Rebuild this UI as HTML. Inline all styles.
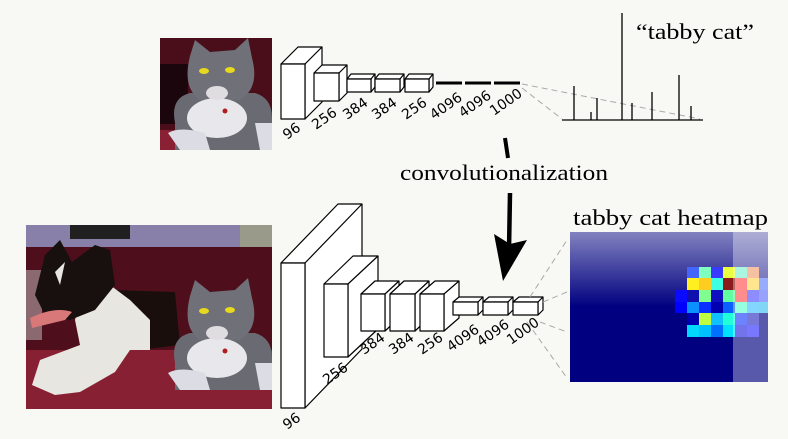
<!DOCTYPE html>
<html><head><meta charset="utf-8"><style>
html,body{margin:0;padding:0;background:#f8f8f4;}
svg{display:block;}
.lb{font-family:"DejaVu Sans","Liberation Sans",sans-serif;font-size:14px;fill:#000;}
.sf{font-family:"Liberation Serif",serif;font-size:22px;fill:#000;}
</style></head><body>
<svg width="788" height="439" viewBox="0 0 788 439" xmlns="http://www.w3.org/2000/svg">
<defs>
<clipPath id="c1"><rect x="160" y="38" width="112" height="112"/></clipPath>
<clipPath id="c2"><rect x="26" y="225" width="246" height="184"/></clipPath>
<g id="cat">
  <path d="M15,85 Q10,60 30,55 L95,55 Q112,60 112,80 L112,112 L15,112Z" fill="#6a6a72"/>
  <path d="M30,18 L35,2 L50,14 L75,12 L88,0 L92,20 Q100,50 80,62 L40,62 Q22,50 30,18Z" fill="#707078"/>
  <ellipse cx="57" cy="80" rx="30" ry="20" fill="#e8e8ec"/>
  <ellipse cx="57" cy="55" rx="11" ry="7" fill="#e0dde0"/>
  <ellipse cx="44" cy="33" rx="5" ry="3" fill="#e8d820"/>
  <ellipse cx="70" cy="32" rx="5" ry="3" fill="#e8d820"/>
  <circle cx="65" cy="73" r="2.5" fill="#b02020"/>
  <path d="M8,95 Q20,88 45,95 L50,112 L20,112Z" fill="#dcdce4"/>
  <path d="M95,85 L112,85 L112,112 L100,112Z" fill="#dcdce4"/>
</g>
</defs>

<g clip-path="url(#c1)">
  <rect x="160" y="38" width="112" height="112" fill="#4a0e1a"/>
  <rect x="160" y="64" width="28" height="60" fill="#1a060c"/>
  <rect x="160" y="130" width="112" height="20" fill="#8a2033"/>
  <use href="#cat" x="160" y="38"/>
</g>

<g clip-path="url(#c2)">
  <rect x="26" y="225" width="246" height="184" fill="#4e0e1c"/>
  <rect x="26" y="225" width="246" height="22" fill="#8880a8"/>
  <rect x="70" y="225" width="60" height="14" fill="#202020"/>
  <rect x="240" y="225" width="32" height="22" fill="#9a9a8a"/>
  <rect x="26" y="350" width="246" height="59" fill="#882034"/>
  <rect x="26" y="270" width="16" height="70" fill="#8a6a70"/>
  <path d="M110,290 L175,292 L180,345 L140,350 L120,320Z" fill="#1a0e0c"/>
  <path d="M80,300 L110,285 L130,300 L150,320 L150,350 L130,350 L115,372 L80,392 L55,395 L32,385 L40,360 L80,345 L75,320Z" fill="#e8e6e0"/>
  <path d="M45,255 L60,240 L72,262 L95,245 L110,250 L115,285 L95,310 L70,320 L45,315 L35,295Z" fill="#18100e"/>
  <path d="M55,272 L65,262 L60,285Z" fill="#e8e6e0"/>
  <path d="M30,318 Q55,306 72,312 L65,320 L32,328Z" fill="#d87878"/>
  <use href="#cat" x="160" y="278"/>
</g>

<g fill="#fff" stroke="#000" stroke-width="1.2" stroke-linejoin="round">
  <path d="M281,64 L298,47 L322,47 L322,102 L305,119 L305,64Z"/><path d="M305,64 L322,47"/>
  <rect x="281" y="64" width="24" height="55"/>
  <path d="M314,73 L322,65 L347,65 L347,93 L339,101 L339,73Z"/><path d="M339,73 L347,65"/>
  <rect x="314" y="73" width="25" height="28"/>
  <path d="M347,79 L351,74 L375,74 L375,87 L371,92 L371,79Z"/><path d="M371,79 L375,74"/>
  <rect x="347" y="79" width="24" height="13"/>
  <path d="M375,79 L379,74 L404,74 L404,87 L400,92 L400,79Z"/><path d="M400,79 L404,74"/>
  <rect x="375" y="79" width="25" height="13"/>
  <path d="M405,79 L409,74 L433,74 L433,87 L429,92 L429,79Z"/><path d="M429,79 L433,74"/>
  <rect x="405" y="79" width="24" height="13"/>
</g>
<g stroke="#000" stroke-width="3">
  <line x1="436" y1="83" x2="462" y2="83"/><line x1="465" y1="83" x2="491" y2="83"/><line x1="494" y1="83" x2="520" y2="83"/>
</g>
<g stroke="#aaa" stroke-width="1" stroke-dasharray="6,4">
  <line x1="522" y1="84" x2="700" y2="119"/><line x1="522" y1="88" x2="562" y2="119"/>
</g>
<g stroke="#000" stroke-width="1.3">
  <line x1="562" y1="120" x2="703" y2="120"/>
  <line x1="574" y1="120" x2="574" y2="86"/><line x1="591" y1="120" x2="591" y2="112"/>
  <line x1="597" y1="120" x2="597" y2="98"/><line x1="622" y1="120" x2="622" y2="13"/>
  <line x1="632" y1="120" x2="632" y2="103"/><line x1="652" y1="120" x2="652" y2="92"/>
  <line x1="679" y1="120" x2="679" y2="75"/><line x1="691" y1="120" x2="691" y2="106"/>
</g>
<text class="sf" x="636" y="39" textLength="118" lengthAdjust="spacingAndGlyphs">“tabby cat”</text>
<g class="lb">
  <text transform="translate(287,140) rotate(-35)">96</text>
  <text transform="translate(316,130) rotate(-35)">256</text>
  <text transform="translate(347,120) rotate(-35)">384</text>
  <text transform="translate(376,120) rotate(-35)">384</text>
  <text transform="translate(406,120) rotate(-35)">256</text>
  <text transform="translate(434,120) rotate(-35)">4096</text>
  <text transform="translate(463,118) rotate(-35)">4096</text>
  <text transform="translate(494,116) rotate(-35)">1000</text>
</g>

<line x1="505" y1="138" x2="508" y2="158" stroke="#000" stroke-width="4"/>
<text class="sf" x="400" y="180" textLength="208" lengthAdjust="spacingAndGlyphs">convolutionalization</text>
<line x1="510" y1="193" x2="509" y2="250" stroke="#000" stroke-width="4.5"/>
<path d="M494,234 L510,244 L527,240 L503,281Z" fill="#000"/>

<g fill="#fff" stroke="#000" stroke-width="1.2" stroke-linejoin="round">
  <path d="M281,263 L338,204 L362,204 L362,349 L305,408 L305,263Z"/><path d="M305,263 L362,204"/>
  <rect x="281" y="263" width="24" height="145"/>
  <path d="M324,284 L353,256 L378,256 L378,329 L348,357 L348,284Z"/><path d="M348,284 L378,256"/>
  <rect x="324" y="284" width="24" height="73"/>
  <path d="M361,294 L375,281 L399,281 L399,318 L385,331 L385,294Z"/><path d="M385,294 L399,281"/>
  <rect x="361" y="294" width="24" height="37"/>
  <path d="M390,294 L404,281 L429,281 L429,318 L415,331 L415,294Z"/><path d="M415,294 L429,281"/>
  <rect x="390" y="294" width="25" height="37"/>
  <path d="M420,294 L435,281 L459,281 L459,318 L444,331 L444,294Z"/><path d="M444,294 L459,281"/>
  <rect x="420" y="294" width="24" height="37"/>
  <path d="M453,302 L459,297 L483,297 L483,310 L478,315 L478,302Z"/><path d="M478,302 L483,297"/>
  <rect x="453" y="302" width="25" height="13"/>
  <path d="M483,302 L489,297 L513,297 L513,310 L508,315 L508,302Z"/><path d="M508,302 L513,297"/>
  <rect x="483" y="302" width="25" height="13"/>
  <path d="M513,302 L519,297 L543,297 L543,310 L538,315 L538,302Z"/><path d="M538,302 L543,297"/>
  <rect x="513" y="302" width="25" height="13"/>
</g>
<g stroke="#aaa" stroke-width="1" stroke-dasharray="6,4">
  <line x1="530" y1="297" x2="567" y2="240"/><line x1="543" y1="302" x2="567" y2="292"/>
  <line x1="540" y1="322" x2="567" y2="332"/><line x1="527" y1="322" x2="567" y2="378"/>
</g>
<g class="lb">
  <text transform="translate(287,430) rotate(-35)">96</text>
  <text transform="translate(327,385) rotate(-35)">256</text>
  <text transform="translate(364,355) rotate(-35)">384</text>
  <text transform="translate(393,355) rotate(-35)">384</text>
  <text transform="translate(422,355) rotate(-35)">256</text>
  <text transform="translate(451,352) rotate(-35)">4096</text>
  <text transform="translate(481,347) rotate(-35)">4096</text>
  <text transform="translate(511,345) rotate(-35)">1000</text>
</g>

<text class="sf" x="573" y="225" textLength="195" lengthAdjust="spacingAndGlyphs">tabby cat heatmap</text>
<defs><linearGradient id="hg" x1="0" y1="0" x2="0" y2="1">
<stop offset="0" stop-color="#8282c0"/><stop offset="0.5" stop-color="#000080"/><stop offset="1" stop-color="#000080"/></linearGradient></defs>
<rect x="570" y="232" width="198" height="150" fill="url(#hg)"/>
<g>
<rect x="687" y="267" width="12" height="11" fill="#4466ff"/><rect x="699" y="267" width="12" height="11" fill="#7fffc0"/><rect x="711" y="267" width="12" height="11" fill="#3a3aff"/><rect x="723" y="267" width="12" height="11" fill="#eaff40"/><rect x="735" y="267" width="12" height="11" fill="#80f0d0"/><rect x="747" y="267" width="12" height="11" fill="#f0a070"/>
<rect x="687" y="278" width="12" height="12" fill="#ffee20"/><rect x="699" y="278" width="12" height="12" fill="#ffcc20"/><rect x="711" y="278" width="12" height="12" fill="#40ffe0"/><rect x="723" y="278" width="12" height="12" fill="#8b1a1a"/><rect x="735" y="278" width="12" height="12" fill="#ff5050"/><rect x="747" y="278" width="12" height="12" fill="#ffd850"/><rect x="759" y="278" width="9" height="12" fill="#6080ff"/>
<rect x="675" y="290" width="12" height="12" fill="#0a0aff"/><rect x="687" y="290" width="12" height="12" fill="#1010b0"/><rect x="699" y="290" width="12" height="12" fill="#80ff90"/><rect x="711" y="290" width="12" height="12" fill="#1010c0"/><rect x="723" y="290" width="12" height="12" fill="#60ffa0"/><rect x="735" y="290" width="12" height="12" fill="#ff5050"/><rect x="747" y="290" width="12" height="12" fill="#5050ff"/><rect x="759" y="290" width="9" height="12" fill="#6070ff"/>
<rect x="675" y="302" width="12" height="11" fill="#0000ff"/><rect x="687" y="302" width="12" height="11" fill="#0a90ff"/><rect x="699" y="302" width="12" height="11" fill="#0a30ff"/><rect x="711" y="302" width="12" height="11" fill="#0000b0"/><rect x="723" y="302" width="12" height="11" fill="#0a60ff"/><rect x="735" y="302" width="12" height="11" fill="#60ffd0"/><rect x="747" y="302" width="12" height="11" fill="#40c0ff"/><rect x="759" y="302" width="9" height="11" fill="#40c0f0"/>
<rect x="687" y="313" width="12" height="12" fill="#0000b0"/><rect x="699" y="313" width="12" height="12" fill="#c0ff40"/><rect x="711" y="313" width="12" height="12" fill="#10c0ff"/><rect x="723" y="313" width="12" height="12" fill="#20ffd8"/><rect x="735" y="313" width="12" height="12" fill="#2040ff"/><rect x="747" y="313" width="12" height="12" fill="#3030c0"/>
<rect x="687" y="325" width="12" height="12" fill="#00d8ff"/><rect x="699" y="325" width="12" height="12" fill="#00c0ff"/><rect x="711" y="325" width="12" height="12" fill="#0070ff"/><rect x="723" y="325" width="12" height="12" fill="#00e0ff"/><rect x="735" y="325" width="12" height="12" fill="#2828e0"/><rect x="747" y="325" width="12" height="12" fill="#3030ff"/>
</g>
<rect x="733" y="232" width="35" height="150" fill="#ffffff" opacity="0.35"/>
</svg>
</body></html>
